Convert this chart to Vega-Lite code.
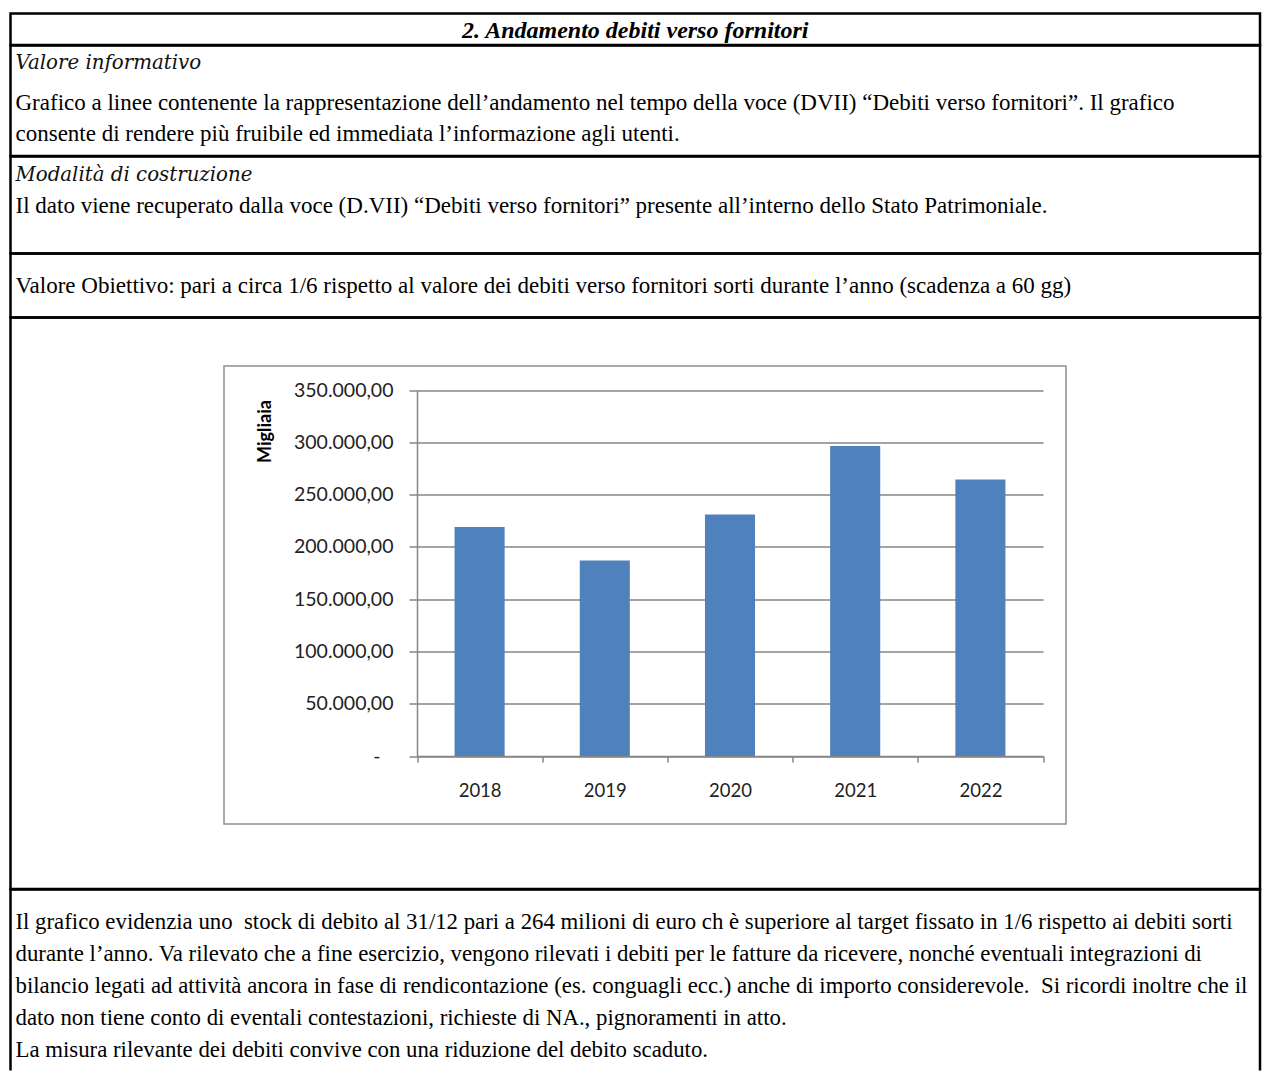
{
  "$schema": "https://vega.github.io/schema/vega-lite/v6.json",
  "background": "white",
  "padding": {"left": 8.5, "top": 11.5, "right": 0, "bottom": 0},
  "spacing": 0,
  "bounds": "flush",
  "config": {
    "view": {"stroke": "#000", "strokeWidth": 2.5},
    "locale": {"number": {"decimal": ",", "thousands": ".", "grouping": [3], "currency": ["€", ""]}},
    "text": {"font": "Liberation Serif", "fontSize": 23, "color": "#000"}
  },
  "vconcat": [
    {
      "width": 1249.5,
      "height": 31.5,
      "data": {"values": [{"testo": "2. Andamento debiti verso fornitori"}]},
      "mark": {"type": "text", "fontWeight": "bold", "fontStyle": "italic", "fontSize": 24, "baseline": "middle", "align": "center", "dy": 2},
      "encoding": {
        "x": {"datum": 0.5, "type": "quantitative", "scale": {"domain": [0, 1]}, "axis": null},
        "text": {"field": "testo"}
      }
    },
    {
      "width": 1249.5,
      "height": 110.5,
      "data": {"values": [
        {"parte": "etichetta", "testo": "Valore informativo"},
        {"parte": "corpo", "testo": "Grafico a linee contenente la rappresentazione dell’andamento nel tempo della voce (DVII) “Debiti verso fornitori”. Il grafico\nconsente di rendere più fruibile ed immediata l’informazione agli utenti."}
      ]},
      "encoding": {
        "x": {"datum": 0, "type": "quantitative", "scale": {"domain": [0, 1]}, "axis": null},
        "y": {"field": "parte", "type": "nominal", "scale": {"type": "point", "domain": ["etichetta", "corpo"], "range": [7, 46], "padding": 0}, "axis": null},
        "text": {"field": "testo"}
      },
      "layer": [
        {"transform": [{"filter": "datum.parte === 'etichetta'"}], "mark": {"type": "text", "align": "left", "baseline": "top", "dx": 5, "font": "DejaVu Serif", "fontStyle": "italic", "fontSize": 19.8, "color": "#111"}},
        {"transform": [{"filter": "datum.parte === 'corpo'"}], "mark": {"type": "text", "align": "left", "baseline": "top", "dx": 5, "lineBreak": "\n", "lineHeight": 31}}
      ]
    },
    {
      "width": 1249.5,
      "height": 97,
      "data": {"values": [
        {"parte": "etichetta", "testo": "Modalità di costruzione"},
        {"parte": "corpo", "testo": "Il dato viene recuperato dalla voce (D.VII) “Debiti verso fornitori” presente all’interno dello Stato Patrimoniale."}
      ]},
      "encoding": {
        "x": {"datum": 0, "type": "quantitative", "scale": {"domain": [0, 1]}, "axis": null},
        "y": {"field": "parte", "type": "nominal", "scale": {"type": "point", "domain": ["etichetta", "corpo"], "range": [8.5, 38.5], "padding": 0}, "axis": null},
        "text": {"field": "testo"}
      },
      "layer": [
        {"transform": [{"filter": "datum.parte === 'etichetta'"}], "mark": {"type": "text", "align": "left", "baseline": "top", "dx": 5, "font": "DejaVu Serif", "fontStyle": "italic", "fontSize": 19.8, "color": "#111"}},
        {"transform": [{"filter": "datum.parte === 'corpo'"}], "mark": {"type": "text", "align": "left", "baseline": "top", "dx": 5}}
      ]
    },
    {
      "width": 1249.5,
      "height": 64,
      "data": {"values": [{"testo": "Valore Obiettivo: pari a circa 1/6 rispetto al valore dei debiti verso fornitori sorti durante l’anno (scadenza a 60 gg)"}]},
      "mark": {"type": "text", "align": "left", "baseline": "middle", "dx": 5},
      "encoding": {
        "x": {"datum": 0, "type": "quantitative", "scale": {"domain": [0, 1]}, "axis": null},
        "text": {"field": "testo"}
      }
    },
    {
      "width": 1249.5,
      "height": 571.5,
      "layer": [
        {
          "data": {"values": [{"elemento": "area del grafico"}]},
          "mark": {"type": "rect", "filled": false, "color": "#8f8f8f", "strokeWidth": 1.5},
          "encoding": {
            "x": {"datum": 0, "type": "quantitative", "scale": {"domain": [0, 1], "range": [213.5, 1055.5]}, "axis": null},
            "x2": {"datum": 1},
            "y": {"datum": 0, "type": "quantitative", "scale": {"domain": [0, 1], "range": [506.5, 48.5]}, "axis": null},
            "y2": {"datum": 1}
          }
        },
        {
          "data": {"values": [
            {"anno": "2018", "debiti": 219000},
            {"anno": "2019", "debiti": 187000},
            {"anno": "2020", "debiti": 231000},
            {"anno": "2021", "debiti": 296500},
            {"anno": "2022", "debiti": 264300}
          ]},
          "mark": {"type": "bar", "color": "#4F81BD", "width": {"band": 0.4}},
          "encoding": {
            "x": {
              "field": "anno", "type": "ordinal",
              "scale": {"paddingInner": 0, "paddingOuter": 0, "range": [406.5, 1032.5]},
              "axis": {
                "title": null, "orient": "bottom", "offset": -133, "labelAngle": 0, "tickBand": "extent", "tickSize": 6,
                "tickColor": "#868686", "tickWidth": 1.5, "domainColor": "#868686", "domainWidth": 1.5,
                "labelFont": "Lato", "labelFontSize": 18.5, "labelColor": "#222", "labelPadding": 19, "grid": false
              }
            },
            "y": {
              "field": "debiti", "type": "quantitative",
              "scale": {"domain": [0, 350000], "range": [438.5, 72.5]},
              "axis": {
                "title": "Migliaia", "orient": "left", "offset": -406.5,
                "values": [0, 50000, 100000, 150000, 200000, 250000, 300000, 350000],
                "labelExpr": "datum.value === 0 ? '-' : format(datum.value, ',.2f')",
                "labelFont": "Lato", "labelFontSize": 19.5, "labelColor": "#222",
                "labelPadding": {"condition": {"test": "datum.value === 0", "value": 29}, "value": 16},
                "tickSize": 8, "tickColor": "#868686", "tickWidth": 1.5,
                "domainColor": "#868686", "domainWidth": 1.5,
                "grid": true, "gridColor": "#868686", "gridWidth": 1.5,
                "titleFont": "Lato", "titleFontSize": 18, "titleFontWeight": "bold", "titleColor": "#000",
                "titleAngle": -90, "titleX": -152, "titleY": 113.5, "titleAlign": "center", "titleBaseline": "middle"
              }
            }
          }
        }
      ],
      "resolve": {"scale": {"x": "independent", "y": "independent"}}
    },
    {
      "width": 1249.5,
      "height": 181,
      "view": {"stroke": "#000", "strokeWidth": 2.5, "strokeDash": [1430.5, 1249.5, 181]},
      "data": {"values": [
        {"parte": "corpo", "testo": "Il grafico evidenzia uno \u00a0stock di debito al 31/12 pari a 264 milioni di euro ch è superiore al target fissato in 1/6 rispetto ai debiti sorti\ndurante l’anno. Va rilevato che a fine esercizio, vengono rilevati i debiti per le fatture da ricevere, nonché eventuali integrazioni di\nbilancio legati ad attività ancora in fase di rendicontazione (es. conguagli ecc.) anche di importo considerevole. \u00a0Si ricordi inoltre che il\ndato non tiene conto di eventali contestazioni, richieste di NA., pignoramenti in atto.\nLa misura rilevante dei debiti convive con una riduzione del debito scaduto."}
      ]},
      "mark": {"type": "text", "align": "left", "baseline": "top", "dx": 5, "fontSize": 22.8, "lineBreak": "\n", "lineHeight": 32},
      "encoding": {
        "x": {"datum": 0, "type": "quantitative", "scale": {"domain": [0, 1]}, "axis": null},
        "y": {"field": "parte", "type": "nominal", "scale": {"type": "point", "domain": ["corpo"], "range": [21, 21], "padding": 0}, "axis": null},
        "text": {"field": "testo"}
      }
    }
  ]
}
